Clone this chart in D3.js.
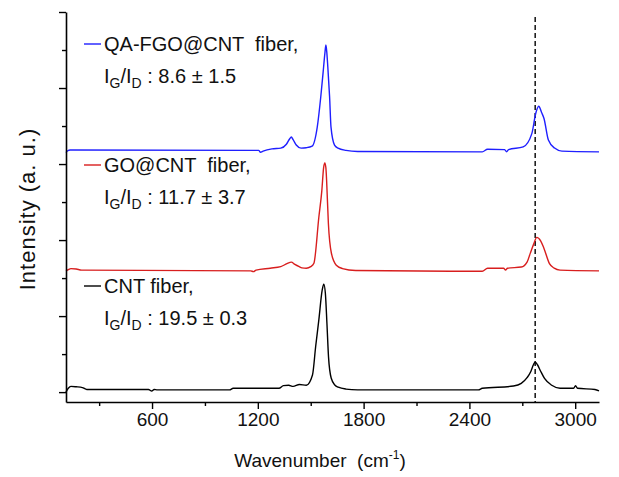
<!DOCTYPE html>
<html>
<head>
<meta charset="utf-8">
<script src="https://cdn.jsdelivr.net/npm/d3@7"></script>
<style>
  body { margin: 0; background: #fff; }
  text { font-family: "Liberation Sans", Arial, sans-serif; fill: #111; }
</style>
</head>
<body>
<div id="chart"></div>
<script>
// spectra (wavenumber, intensity in a.u.)
const cntX = [112, 125, 140, 170, 205, 230, 580, 598, 612, 630, 1040, 1060, 1320, 1345, 1375, 1400, 1436, 1475, 1510, 1528, 1546, 1565, 1574, 1583, 1592, 1601, 1616, 1638, 1656, 1700, 1766, 2451, 2473, 2650, 2694, 2727, 2749, 2763, 2773, 2786, 2804, 2826, 2867, 2914, 2991, 3002, 3013, 3112, 3135];
const cntY = [0.0, 0.1, 0.15, 0.14, 0.12, 0.07, 0.07, 0.03, 0.07, 0.06, 0.06, 0.1, 0.1, 0.17, 0.18, 0.15, 0.2, 0.18, 0.45, 1.2, 1.9, 2.68, 2.84, 2.6, 1.8, 0.92, 0.37, 0.18, 0.13, 0.08, 0.06, 0.06, 0.1, 0.16, 0.23, 0.38, 0.55, 0.72, 0.79, 0.72, 0.55, 0.36, 0.18, 0.1, 0.1, 0.17, 0.1, 0.07, 0.03];

const goX = [112, 125, 140, 170, 200, 1160, 1175, 1190, 1270, 1330, 1365, 1390, 1410, 1435, 1450, 1475, 1500, 1518, 1546, 1563, 1573, 1580, 1586, 1590, 1600, 1617, 1645, 1680, 1755, 2473, 2503, 2594, 2605, 2616, 2694, 2727, 2745, 2765, 2782, 2804, 2823, 2854, 2881, 2914, 3135];
const goY = [3.18, 3.22, 3.25, 3.24, 3.21, 3.19, 3.17, 3.21, 3.26, 3.3, 3.38, 3.42, 3.36, 3.3, 3.27, 3.26, 3.3, 3.39, 4.6, 5.3, 5.9, 6.03, 5.9, 5.58, 4.45, 3.66, 3.34, 3.25, 3.2, 3.18, 3.26, 3.26, 3.21, 3.26, 3.29, 3.42, 3.65, 3.9, 4.07, 3.98, 3.78, 3.38, 3.26, 3.21, 3.19];

const qaX = [112, 122, 135, 1205, 1215, 1230, 1280, 1330, 1362, 1380, 1390, 1400, 1418, 1445, 1475, 1508, 1537, 1557, 1570, 1580, 1586, 1591, 1597, 1607, 1615, 1635, 1655, 1700, 1766, 2473, 2503, 2600, 2611, 2622, 2705, 2754, 2776, 2793, 2810, 2823, 2848, 2883, 2925, 3135];
const qaY = [6.3, 6.35, 6.37, 6.36, 6.31, 6.34, 6.4, 6.42, 6.52, 6.66, 6.71, 6.64, 6.5, 6.42, 6.43, 6.47, 6.97, 7.77, 8.4, 8.9, 9.13, 8.95, 8.55, 7.77, 6.97, 6.5, 6.42, 6.36, 6.33, 6.32, 6.39, 6.38, 6.32, 6.38, 6.45, 6.8, 7.33, 7.52, 7.35, 7.2, 6.63, 6.42, 6.34, 6.32];

const seriesNames = ["QA-FGO@CNT  fiber,", "GO@CNT  fiber,", "CNT fiber,"];
const ratioLabels = [": 8.6 ± 1.5", ": 11.7 ± 3.7", ": 19.5 ± 0.3"];
const seriesColors = ["#1f1fff", "#d81e1e", "#000000"];
const xMajorTicks = [600, 1200, 1800, 2400, 3000];
const xMinorTicks = [300, 900, 1500, 2100, 2700];
const yMajorTicks = [0, 2, 4, 6, 8, 10];
const yMinorTicks = [1, 3, 5, 7, 9];
const peak2D = 2773;

const width = 619, height = 477;
const margin = {top: 12, right: 20, bottom: 75, left: 66};

const svg = d3.select("#chart").append("svg")
    .attr("width", width)
    .attr("height", height);

const x = d3.scaleLinear()
    .domain([112, 3135])
    .range([margin.left, width - margin.right]);

const y = d3.scaleLinear()
    .domain([-0.26, 10])
    .range([height - margin.bottom, margin.top]);

const series = [
    {x: qaX, y: qaY},
    {x: goX, y: goY},
    {x: cntX, y: cntY}
];

// dashed marker at the 2D band
svg.append("line")
    .attr("x1", x(peak2D)).attr("x2", x(peak2D))
    .attr("y1", margin.top + 5).attr("y2", y(-0.26))
    .attr("stroke", "#000")
    .attr("stroke-width", 1.4)
    .attr("stroke-dasharray", "5,3");

const line = d3.line()
    .x(d => x(d[0]))
    .y(d => y(d[1]))
    .curve(d3.curveMonotoneX);

series.forEach((s, i) => {
    svg.append("path")
        .datum(s.x.map((v, j) => [v, s.y[j]]))
        .attr("fill", "none")
        .attr("stroke", seriesColors[i])
        .attr("stroke-width", 1.4)
        .attr("d", line);
});

// x axis with minor ticks
svg.append("g")
    .attr("transform", `translate(0,${y(-0.26)})`)
    .call(d3.axisBottom(x).tickValues(xMinorTicks).tickSize(4).tickFormat(""))
    .call(g => g.select(".domain").remove());

svg.append("g")
    .attr("transform", `translate(0,${y(-0.26)})`)
    .call(d3.axisBottom(x).tickValues(xMajorTicks).tickSize(7).tickSizeOuter(0)
        .tickPadding(4).tickFormat(d3.format("d")))
    .call(g => g.selectAll("text").style("font-size", "19px").attr("fill", "#111"))
    .call(g => g.select(".domain").attr("stroke-width", 1.6));

// y axis, no labels
svg.append("g")
    .attr("transform", `translate(${margin.left},0)`)
    .call(d3.axisLeft(y).tickValues(yMinorTicks).tickSize(4).tickFormat(""))
    .call(g => g.select(".domain").remove());

svg.append("g")
    .attr("transform", `translate(${margin.left},0)`)
    .call(d3.axisLeft(y).tickValues(yMajorTicks).tickSize(7).tickSizeOuter(0).tickFormat(""))
    .call(g => g.select(".domain").attr("stroke-width", 1.6));

svg.selectAll(".tick line").attr("stroke-width", 1.4);

// axis titles
const xTitle = svg.append("text")
    .attr("x", 320)
    .attr("y", 467)
    .attr("text-anchor", "middle")
    .style("font-size", "19px")
    .style("white-space", "pre");
xTitle.append("tspan").text("Wavenumber  (cm");
xTitle.append("tspan").attr("dy", -8).style("font-size", "12px").text("-1");
xTitle.append("tspan").attr("dy", 8).text(")");

svg.append("text")
    .attr("transform", `translate(35,${(y(10) + y(-0.26)) / 2 + 2}) rotate(-90)`)
    .attr("text-anchor", "middle")
    .style("font-size", "22px")
    .style("letter-spacing", "1px")
    .text("Intensity (a. u.)");

// in-plot legend
const legendY = [44, 165, 286];
seriesNames.forEach((name, i) => {
    const ly = legendY[i];
    svg.append("line")
        .attr("x1", 84).attr("x2", 101)
        .attr("y1", ly).attr("y2", ly)
        .attr("stroke", seriesColors[i])
        .attr("stroke-width", 1.4);

    svg.append("text")
        .attr("x", 104).attr("y", ly + 7)
        .style("font-size", "20px")
        .style("white-space", "pre")
        .text(name);

    const t = svg.append("text")
        .attr("x", 104).attr("y", ly + 39)
        .style("font-size", "20px")
        .style("white-space", "pre");
    t.append("tspan").text("I");
    t.append("tspan").attr("dy", 5).style("font-size", "14px").text("G");
    t.append("tspan").attr("dy", -5).text("/I");
    t.append("tspan").attr("dy", 5).style("font-size", "14px").text("D");
    t.append("tspan").attr("dy", -5).text(" " + ratioLabels[i]);
});
</script>
</body>
</html>
